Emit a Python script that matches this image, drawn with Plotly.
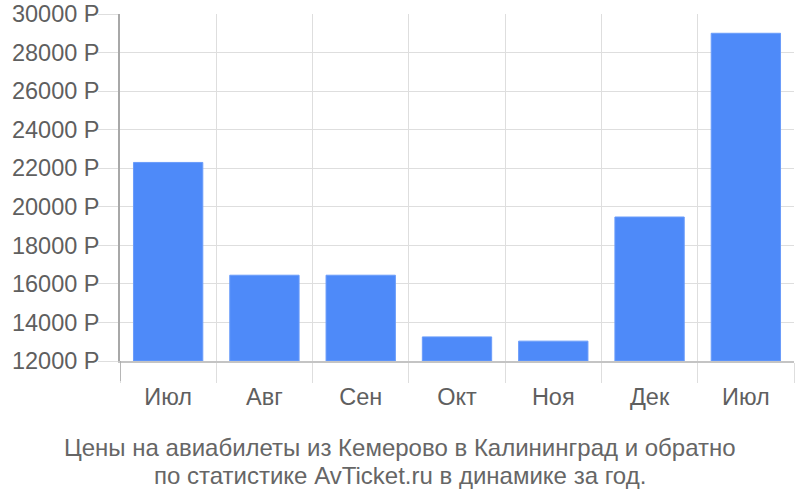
import plotly.graph_objects as go

months = ["Июл", "Авг", "Сен", "Окт", "Ноя", "Дек", "Июл"]
prices = [22300, 16450, 16450, 13250, 13030, 19470, 29000]
y_ticks = [12000, 14000, 16000, 18000, 20000, 22000, 24000, 26000, 28000, 30000]
y_labels = [f"{v} Р" for v in y_ticks]
caption_1 = "Цены на авиабилеты из Кемерово в Калининград и обратно"
caption_2 = "по статистике AvTicket.ru в динамике за год."

x_pos = list(range(len(months)))
boundaries = [i - 0.5 for i in range(len(months) + 1)]

fig = go.Figure(go.Bar(
    x=x_pos, y=[p - 12000 for p in prices], base=12000,
    marker=dict(color="#4e8af9", line=dict(color="#6a9cfa", width=1)),
    width=0.72,
    hoverinfo="skip",
))

font_main = "Liberation Sans, Arial, sans-serif"
grid = "#dedede"
txt = "#5f5f5f"

fig.update_layout(
    width=800, height=500,
    margin=dict(l=120, r=6, t=14, b=139, autoexpand=False),
    paper_bgcolor="white", plot_bgcolor="white",
    showlegend=False,
    font=dict(family=font_main, size=23.5, color=txt),
    xaxis=dict(
        range=[-0.5, len(months) - 0.5],
        tickvals=x_pos, ticktext=months,
        ticks="outside", ticklen=14, tickcolor="rgba(0,0,0,0)",
        showgrid=False, zeroline=False, automargin=False,
        ticklabeloverflow="allow",
        showline=True, linecolor="#c4c4c4", linewidth=1.5,
        tickfont=dict(size=23.5, color=txt),
        minor=dict(tickvals=boundaries, ticks="outside", ticklen=20,
                   tickcolor=grid, showgrid=True, gridcolor=grid, gridwidth=1),
        fixedrange=True,
    ),
    yaxis=dict(
        range=[12000, 30000],
        tickvals=y_ticks, ticktext=y_labels,
        ticks="outside", ticklen=20, tickcolor=grid,
        showgrid=True, gridcolor=grid, gridwidth=1,
        zeroline=False, automargin=False,
        ticklabeloverflow="allow", ticklabelstandoff=-6,
        showline=True, linecolor="#a8a8a8", linewidth=1.5,
        tickfont=dict(size=23.5, color=txt),
        fixedrange=True,
    ),
    shapes=[dict(type="line", xref="x", x0=-0.5, x1=-0.5,
                 yref="paper", ysizemode="pixel", yanchor=0, y0=-20, y1=0,
                 line=dict(color="#a8a8a8", width=1.5))],
    annotations=[
        dict(text=caption_1, xref="paper", yref="paper", x=0.4154, y=-0.248,
             xanchor="center", yanchor="middle", showarrow=False,
             font=dict(family=font_main, size=24, color="#666666")),
        dict(text=caption_2, xref="paper", yref="paper", x=0.4154, y=-0.331,
             xanchor="center", yanchor="middle", showarrow=False,
             font=dict(family=font_main, size=24, color="#666666")),
    ],
)

fig.write_html(
    "out.html",
    config={"displayModeBar": False},
    post_script="document.body.style.margin='0';document.body.style.overflow='hidden';",
)
